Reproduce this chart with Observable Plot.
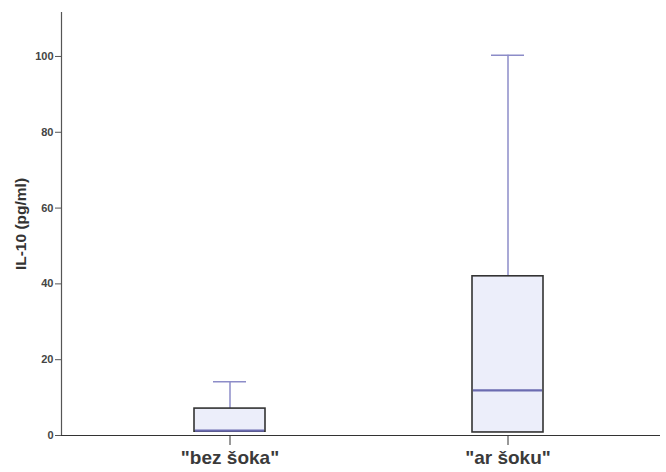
<!DOCTYPE html>
<html>
<head>
<meta charset="utf-8">
<script src="https://cdn.jsdelivr.net/npm/d3@7"></script>
<script src="https://cdn.jsdelivr.net/npm/@observablehq/plot@0.6"></script>
<style>
  html, body { margin: 0; padding: 0; background: #fff; }
  #chart svg { display: block; }
</style>
</head>
<body>
<div id="chart"></div>
<script>
// IL-10 concentration by group: box (Q1–Q3), median and upper whisker
const groups = ['"bez šoka"', '"ar šoku"'];
const q1 = [1.0, 0.8];
const median = [1.3, 11.9];
const q3 = [7.1, 42.0];
const upper = [14.2, 100.3];
const yTicks = [0, 20, 40, 60, 80, 100];

const rows = groups.map((g, i) => ({
  group: g, q1: q1[i], median: median[i], q3: q3[i], upper: upper[i]
}));

const font = "'Liberation Sans', Arial, sans-serif";

const chart = Plot.plot({
  width: 666,
  height: 472,
  marginTop: 12,
  marginBottom: 37,
  marginLeft: 61,
  marginRight: 6,
  style: { fontFamily: font, background: "#fff" },
  x: {
    type: "band",
    domain: groups,
    range: [193, 543],
    paddingInner: 0.7455,
    paddingOuter: 0,
    label: null
  },
  y: { domain: [0, 111.6], label: null },
  marks: [
    // axis lines
    Plot.frame({ anchor: "left", stroke: "#555", strokeWidth: 1.2 }),
    Plot.ruleY([0], { stroke: "#333", strokeWidth: 1.2 }),
    // upper whiskers and caps
    Plot.ruleX(rows, { x: "group", y1: "q3", y2: "upper", stroke: "#8c8cc8", strokeWidth: 1.5 }),
    Plot.tickY(rows, { x: "group", y: "upper", stroke: "#8c8cc8", strokeWidth: 1.5, inset: 19 }),
    // boxes
    Plot.barY(rows, { x: "group", y1: "q1", y2: "q3", fill: "#eceefa", stroke: "#333", strokeWidth: 1.6 }),
    // medians
    Plot.tickY(rows, { x: "group", y: "median", stroke: "#6b6bb0", strokeWidth: 2.2, inset: 1 }),
    // axes
    Plot.axisY({
      ticks: yTicks, tickSize: 6, tickPadding: 2, stroke: "#555",
      fontSize: 11, fontWeight: "bold", fill: "#444",
      label: "IL-10 (pg/ml)", labelAnchor: "center", labelArrow: "none",
      labelOffset: 47
    }),
    Plot.axisX({
      tickSize: 10, tickPadding: 5, stroke: "#333",
      fontSize: 19, fontWeight: "bold", fill: "#3a3a3a", label: null
    })
  ]
});

// Axis title styling
d3.select(chart).selectAll("[aria-label='y-axis label'] text, [aria-label='y-axis label']")
  .attr("font-size", 15.5).attr("font-weight", "bold").attr("fill", "#333");

document.getElementById("chart").appendChild(chart);
</script>
</body>
</html>
